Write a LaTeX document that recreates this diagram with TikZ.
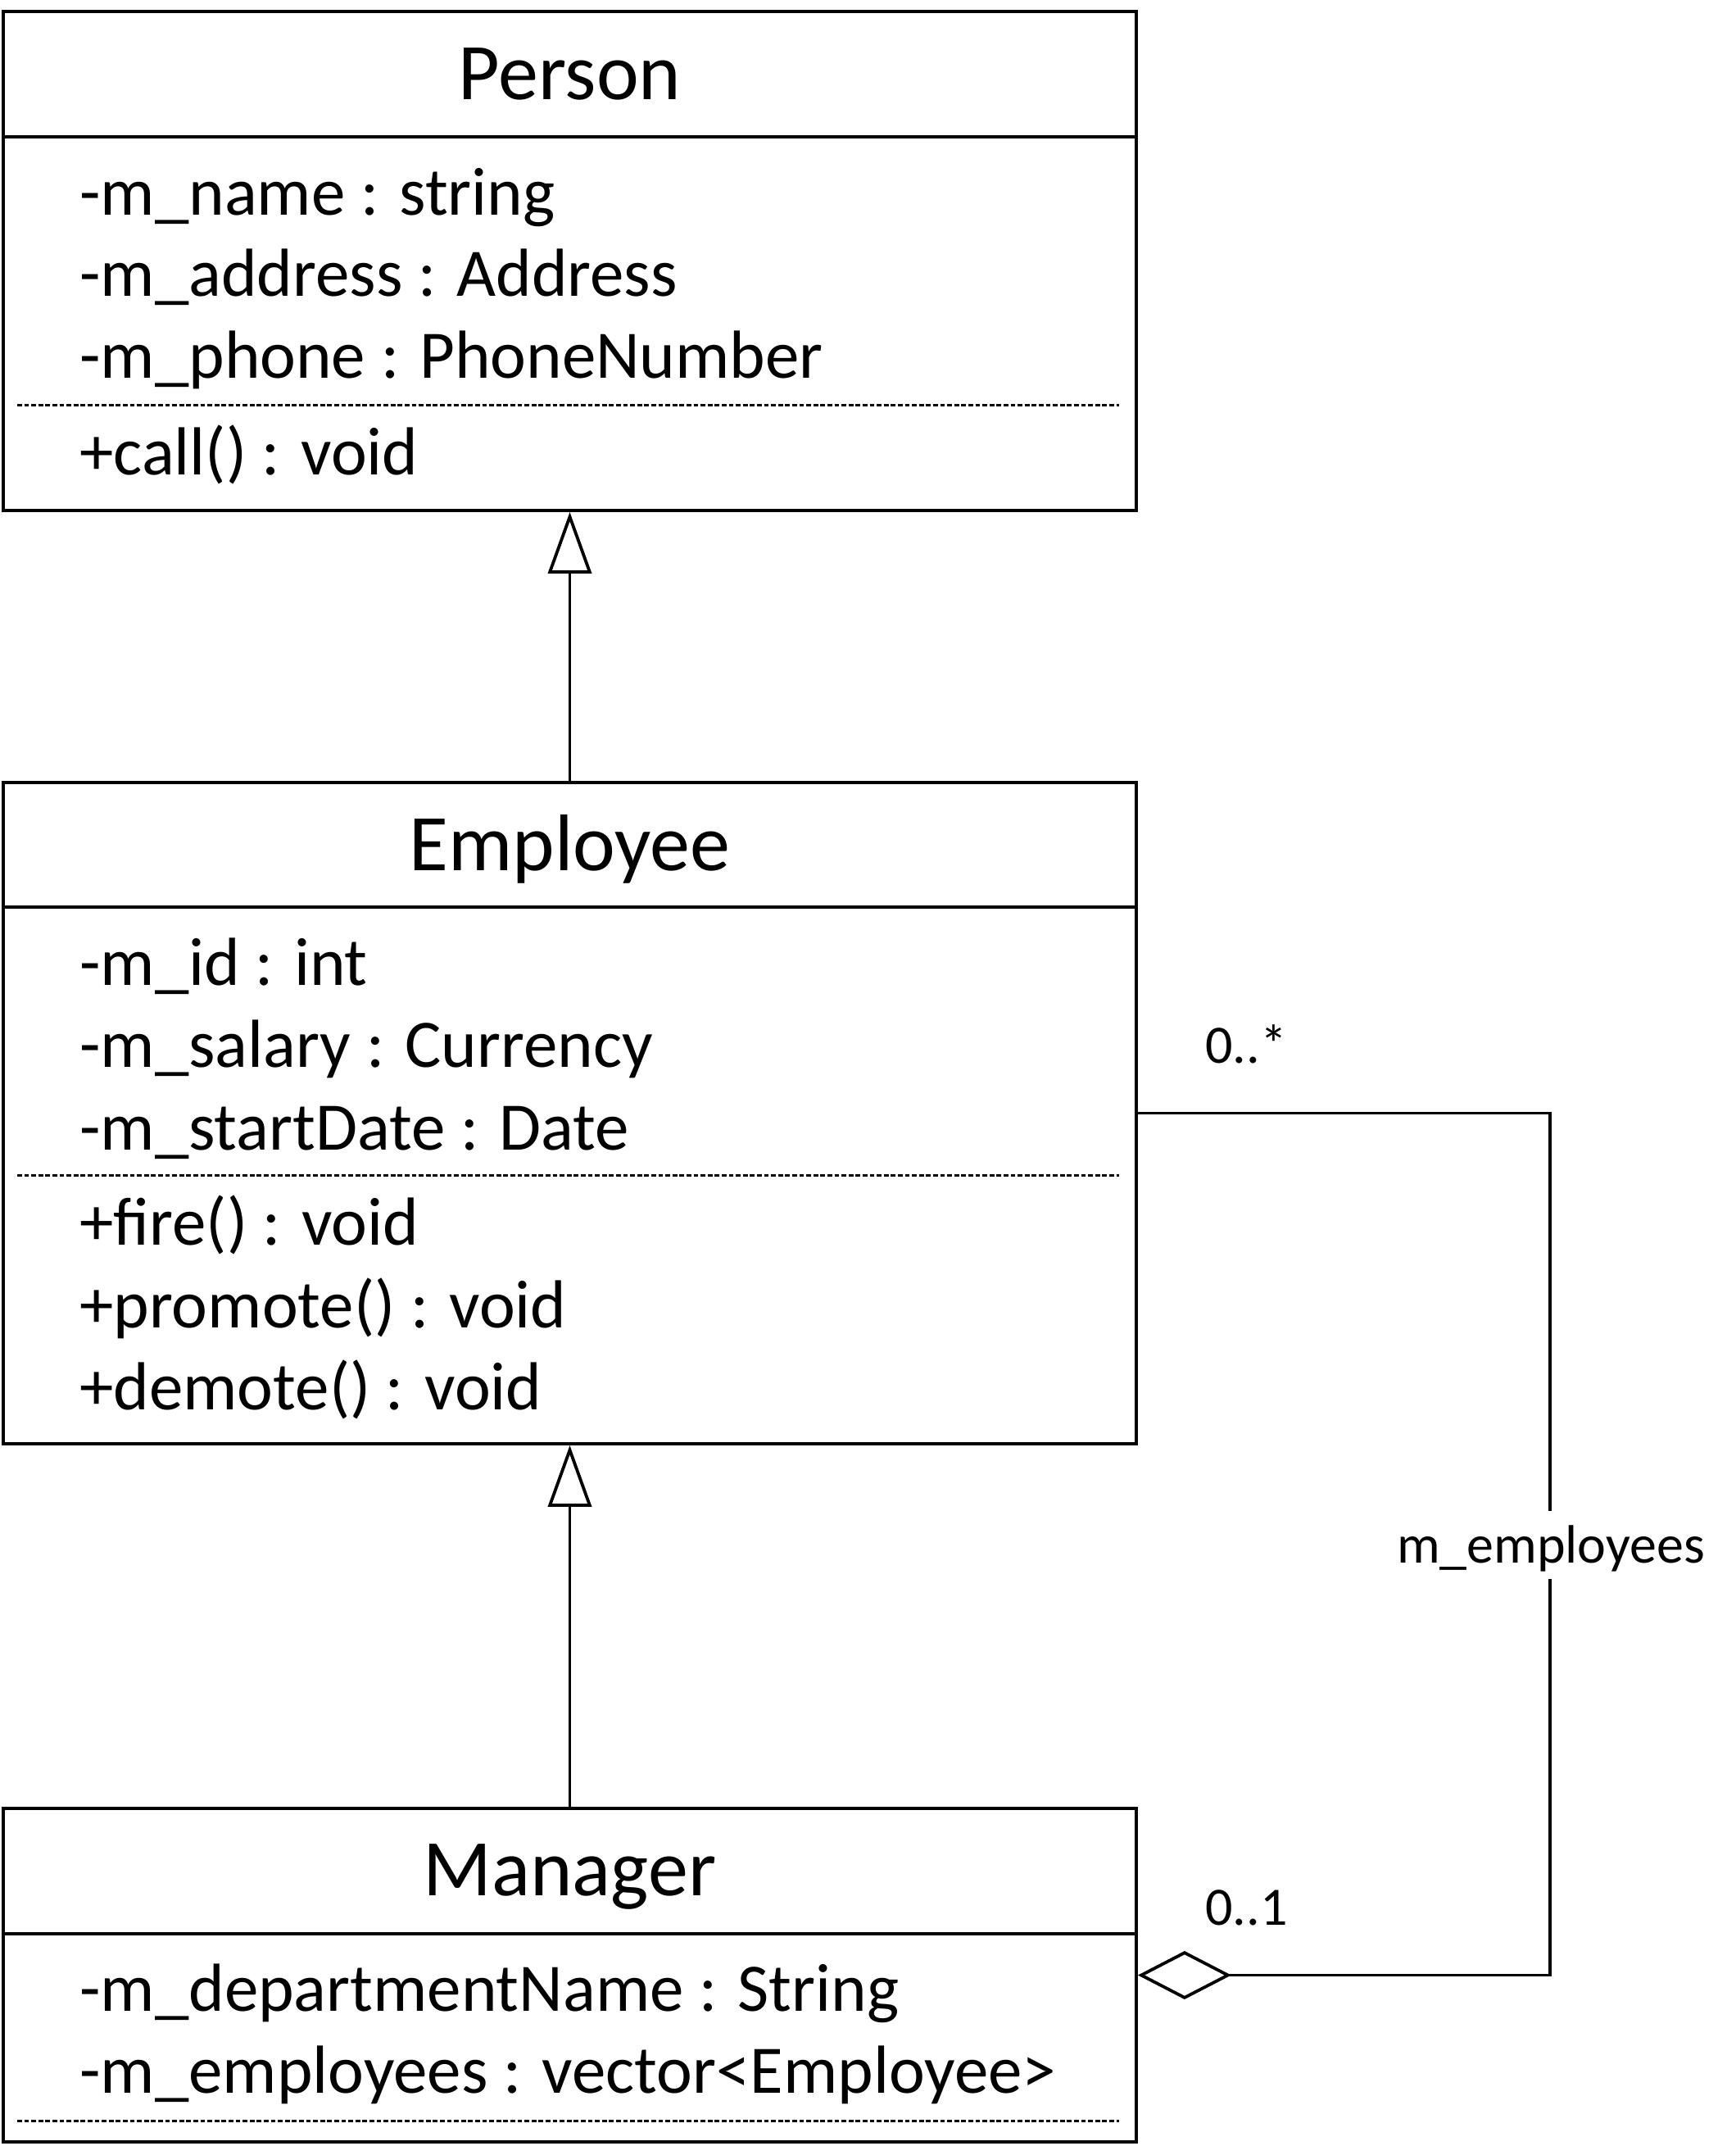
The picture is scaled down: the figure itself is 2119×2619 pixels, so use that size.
\documentclass[tikz,border=0pt]{standalone}
\usepackage{fontspec}
\setmainfont{Carlito}
\usetikzlibrary{arrows.meta}
\begin{document}
\begin{tikzpicture}[x=0.5pt,y=-0.5pt,
  box/.style={draw, line width=1.9pt, rectangle, minimum width=691.5pt, inner sep=0pt},
  classtitle/.style={anchor=base, font=\fontsize{49}{58}\selectfont, inner sep=0pt},
  member/.style={anchor=base west, font=\fontsize{41.5}{50}\selectfont, inner sep=0pt},
  mult/.style={anchor=base west, font=\fontsize{33}{40}\selectfont, inner sep=0pt},
  rolelabel/.style={anchor=base, font=\fontsize{33}{40}\selectfont, fill=white, inner xsep=4pt, inner ysep=0pt, text height=31.5pt, text depth=10pt},
  divider/.style={line width=1.9pt},
  dashdivider/.style={line width=1.5pt, dash pattern=on 2.9pt off 1.4pt},
  inherit/.style={line width=1.9pt, line join=miter, -{Triangle[open, length=37.5pt, width=26.5pt]}},
  aggr/.style={line width=1.9pt, line join=miter, {Diamond[open, length=57pt, width=29.5pt]}-}
]
\useasboundingbox (0,0) rectangle (2119,2619);

% Person
\node[box, minimum height=304.5pt] (person) at (695.5,318.5) {};
\draw[divider] (4,167) -- (1387,167);
\draw[dashdivider] (21,494) -- (1366,494);
\node[classtitle] (ptitle) at (695.5,121) {Person};
\node[member] (p1) at (97,262) {-m\_name : string};
\node[member] (p2) at (97,361) {-m\_address : Address};
\node[member] (p3) at (97,461) {-m\_phone : PhoneNumber};
\node[member] (p4) at (97,579) {+call() : void};

% Employee
\node[box, minimum height=403.5pt] (employee) at (695.5,1358.5) {};
\draw[divider] (4,1107) -- (1387,1107);
\draw[dashdivider] (21,1434) -- (1366,1434);
\node[classtitle] (etitle) at (695.5,1062) {Employee};
\node[member] (e1) at (97,1202) {-m\_id : int};
\node[member] (e2) at (97,1302) {-m\_salary : Currency};
\node[member] (e3) at (97,1403) {-m\_startDate : Date};
\node[member] (e4) at (97,1519) {+fire() : void};
\node[member] (e5) at (97,1620) {+promote() : void};
\node[member] (e6) at (97,1720) {+demote() : void};

% Manager
\node[box, minimum height=203.5pt] (manager) at (695.5,2410.5) {};
\draw[divider] (4,2360) -- (1387,2360);
\draw[dashdivider] (21,2588) -- (1366,2588);
\node[classtitle] (mtitle) at (695.5,2313) {Manager};
\node[member] (m1) at (97,2454) {-m\_departmentName : String};
\node[member] (m2) at (97,2554) {-m\_employees : vector<Employee>};

% Generalizations
\draw[inherit] (employee.north) -- (person.south);
\draw[inherit] (manager.north) -- (employee.south);

% Aggregation
\coordinate (corner) at (1892,1358.5);
\draw[aggr] (manager.east) -| (corner) -- (employee.east);
\node[rolelabel] (role) at (1893,1907) {m\_employees};
\node[mult] (multmany) at (1471,1297) {0..*};
\node[mult] (multone) at (1471,2349) {0..1};
\end{tikzpicture}
\end{document}
